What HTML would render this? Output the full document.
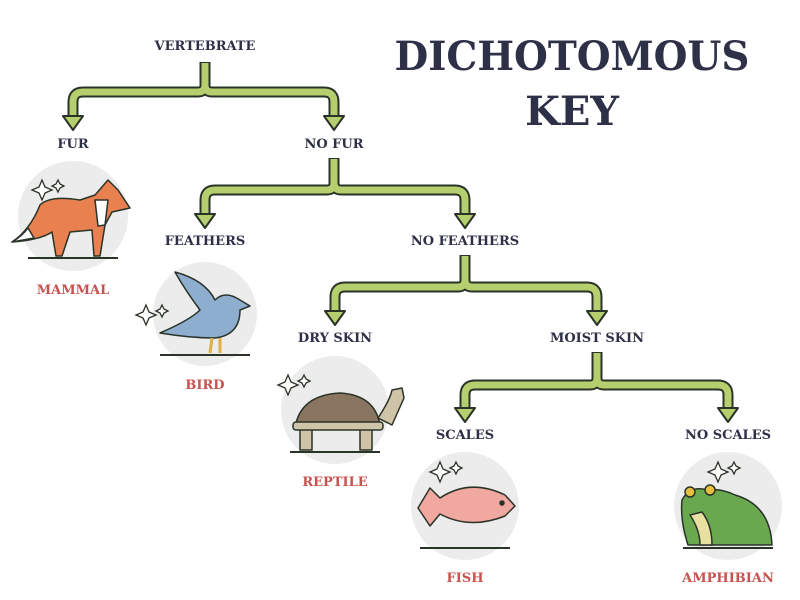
<!DOCTYPE html>
<html><head><meta charset="utf-8"><style>
html,body{margin:0;padding:0;background:#fff;}
svg{display:block}
.l{font-family:"DejaVu Serif",serif;font-weight:bold;font-size:13px;fill:#2d3047;text-anchor:middle}
.r{font-family:"DejaVu Serif",serif;font-weight:bold;font-size:13px;fill:#c8524f;text-anchor:middle}
.t{font-family:"DejaVu Serif",serif;font-weight:bold;font-size:40px;fill:#2d3047;text-anchor:middle}
</style></head><body>
<svg width="800" height="600" viewBox="0 0 800 600" xmlns="http://www.w3.org/2000/svg">
<defs>
<g id="arr"><polygon points="-10,-8 10,-8 0,6" fill="#b5cf6e" stroke="#2a3328" stroke-width="2" stroke-linejoin="round"/></g>
</defs>
<text class="t" x="572" y="70" textLength="355" lengthAdjust="spacingAndGlyphs">DICHOTOMOUS</text>
<text class="t" x="572" y="125">KEY</text>

<g fill="none" stroke-linejoin="round" stroke-linecap="butt">
<g stroke="#2a3328" stroke-width="11">
<path d="M205 62 V85 Q205 92 198 92 H83 Q73 92 73 102 V120 M205 85 Q205 92 212 92 H324 Q334 92 334 102 V120"/>
<path d="M334 158 V183 Q334 190 327 190 H215 Q205 190 205 200 V218 M334 183 Q334 190 341 190 H455 Q465 190 465 200 V218"/>
<path d="M465 255 V280 Q465 287 458 287 H345 Q335 287 335 297 V315 M465 280 Q465 287 472 287 H587 Q597 287 597 297 V315"/>
<path d="M597 352 V378 Q597 385 590 385 H475 Q465 385 465 395 V412 M597 378 Q597 385 604 385 H718 Q728 385 728 395 V412"/>
</g>
<g stroke="#b5cf6e" stroke-width="7">
<path d="M205 63 V85 Q205 92 198 92 H83 Q73 92 73 102 V121 M205 85 Q205 92 212 92 H324 Q334 92 334 102 V121"/>
<path d="M334 159 V183 Q334 190 327 190 H215 Q205 190 205 200 V219 M334 183 Q334 190 341 190 H455 Q465 190 465 200 V219"/>
<path d="M465 256 V280 Q465 287 458 287 H345 Q335 287 335 297 V316 M465 280 Q465 287 472 287 H587 Q597 287 597 297 V316"/>
<path d="M597 353 V378 Q597 385 590 385 H475 Q465 385 465 395 V413 M597 378 Q597 385 604 385 H718 Q728 385 728 395 V413"/>
</g>
</g>
<use href="#arr" x="73" y="124"/><use href="#arr" x="334" y="124"/>
<use href="#arr" x="205" y="222"/><use href="#arr" x="465" y="222"/>
<use href="#arr" x="335" y="319"/><use href="#arr" x="597" y="319"/>
<use href="#arr" x="465" y="416"/><use href="#arr" x="728" y="416"/>

<text class="l" x="205" y="50">VERTEBRATE</text>
<text class="l" x="73" y="148">FUR</text>
<text class="l" x="334" y="148">NO FUR</text>
<text class="l" x="205" y="245">FEATHERS</text>
<text class="l" x="465" y="245">NO FEATHERS</text>
<text class="l" x="335" y="342">DRY SKIN</text>
<text class="l" x="597" y="342">MOIST SKIN</text>
<text class="l" x="465" y="439">SCALES</text>
<text class="l" x="728" y="439">NO SCALES</text>

<g fill="#ececec">
<circle cx="73" cy="216" r="55"/><circle cx="205" cy="314" r="52"/>
<circle cx="335" cy="410" r="54"/><circle cx="465" cy="506" r="54"/><circle cx="728" cy="506" r="54"/>
</g>
<g stroke="#2a3328" stroke-width="2" fill="none">
<line x1="28" y1="258" x2="118" y2="258"/><line x1="160" y1="355" x2="250" y2="355"/>
<line x1="290" y1="452" x2="380" y2="452"/><line x1="420" y1="548" x2="510" y2="548"/><line x1="683" y1="548" x2="773" y2="548"/>
</g>
<!-- fox -->
<g stroke="#2a3328" stroke-width="1.5" stroke-linejoin="round">
<path d="M12 242 Q30 230 40 205 Q50 195 80 200 L95 195 L108 180 L118 190 L130 208 L112 212 L105 225 L100 256 L94 256 L92 230 L70 232 L62 256 L56 256 L52 232 Q40 240 12 242Z" fill="#e8804f"/>
<path d="M12 242 Q22 236 28 228 L34 238 Z" fill="#fff"/>
<path d="M95 200 L108 200 L105 225 L98 226Z" fill="#fff"/>
</g>
<!-- bird -->
<g stroke="#2a3328" stroke-width="1.5" stroke-linejoin="round">
<path d="M160 333 Q190 320 200 310 Q185 290 175 272 Q205 280 215 300 Q225 290 240 300 L250 306 L240 310 Q240 335 215 338 Q190 338 160 333Z" fill="#8eaed0"/>
<path d="M212 338 L210 353 M220 338 L220 353" stroke="#e0b040" stroke-width="3"/>
</g>
<!-- turtle -->
<g stroke="#2a3328" stroke-width="1.5" stroke-linejoin="round">
<path d="M295 428 Q300 395 340 393 Q375 395 380 425 Z" fill="#8a7560"/>
<path d="M378 418 Q390 400 392 390 L402 388 L404 398 L392 425Z" fill="#d0c4a8"/>
<rect x="300" y="428" width="12" height="22" fill="#d0c4a8"/><rect x="360" y="428" width="12" height="22" fill="#d0c4a8"/>
<rect x="293" y="422" width="90" height="8" rx="3" fill="#d0c4a8"/>
</g>
<!-- fish -->
<g stroke="#2a3328" stroke-width="1.5" stroke-linejoin="round">
<path d="M418 508 L430 488 L440 498 Q470 478 505 495 L515 506 L505 516 Q470 530 440 514 L430 526Z" fill="#f0a8a0"/>
<circle cx="502" cy="503" r="2" fill="#2a3328"/>
</g>
<!-- frog -->
<g stroke="#2a3328" stroke-width="1.5" stroke-linejoin="round">
<path d="M682 500 Q690 485 708 490 Q720 488 735 495 Q770 505 772 545 L688 545 Q680 520 682 500Z" fill="#6aa84f"/>
<path d="M690 515 Q700 530 700 545 L712 545 Q712 525 702 512Z" fill="#e8e0a0"/>
<circle cx="690" cy="492" r="5" fill="#e8c040"/><circle cx="710" cy="490" r="5" fill="#e8c040"/>
</g>
<!-- sparkles -->
<g fill="#fff" stroke="#2a3328" stroke-width="1.3">
<path d="M42 180 l3 7 7 3 -7 3 -3 7 -3 -7 -7 -3 7 -3z"/><path d="M58 180 l2 4 4 2 -4 2 -2 4 -2 -4 -4 -2 4 -2z"/>
<path d="M146 305 l3 7 7 3 -7 3 -3 7 -3 -7 -7 -3 7 -3z"/><path d="M162 305 l2 4 4 2 -4 2 -2 4 -2 -4 -4 -2 4 -2z"/>
<path d="M288 375 l3 7 7 3 -7 3 -3 7 -3 -7 -7 -3 7 -3z"/><path d="M304 375 l2 4 4 2 -4 2 -2 4 -2 -4 -4 -2 4 -2z"/>
<path d="M440 462 l3 7 7 3 -7 3 -3 7 -3 -7 -7 -3 7 -3z"/><path d="M456 462 l2 4 4 2 -4 2 -2 4 -2 -4 -4 -2 4 -2z"/>
<path d="M718 462 l3 7 7 3 -7 3 -3 7 -3 -7 -7 -3 7 -3z"/><path d="M734 462 l2 4 4 2 -4 2 -2 4 -2 -4 -4 -2 4 -2z"/>
</g>

<text class="r" x="73" y="294">MAMMAL</text>
<text class="r" x="205" y="389">BIRD</text>
<text class="r" x="335" y="486">REPTILE</text>
<text class="r" x="465" y="582">FISH</text>
<text class="r" x="728" y="582">AMPHIBIAN</text>
</svg>
</body></html>
